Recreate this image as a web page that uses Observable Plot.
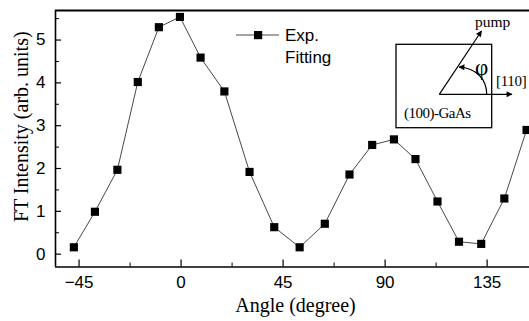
<!DOCTYPE html>
<html><head><meta charset="utf-8">
<script src="https://cdn.jsdelivr.net/npm/d3@7"></script>
<script src="https://cdn.jsdelivr.net/npm/@observablehq/plot@0.6"></script>
<style>body{margin:0;background:#fff} svg{display:block}</style>
</head><body><div id="chart"></div>
<script>
const angles = [-47.3,-38.0,-28.1,-19.1,-9.8,-0.5,8.6,19.1,30.2,41.1,52.3,63.4,74.3,84.3,93.9,103.4,113.1,122.6,132.4,142.6,152.4];
const intensity = [0.16,0.99,1.97,4.02,5.30,5.54,4.59,3.80,1.92,0.63,0.16,0.71,1.86,2.55,2.68,2.22,1.23,0.29,0.24,1.30,2.90];
const xTicks = [-45,0,45,90,135];
const xMinor = [-22.5,22.5,67.5,112.5];
const yTicks = [0,1,2,3,4,5];
const yMinor = [0.5,1.5,2.5,3.5,4.5,5.5];
const xDomain = [-55.4,153.7];
const yDomain = [-0.30,5.69];
const xTitle = "Angle (degree)";
const yTitle = "FT Intensity (arb. units)";
const legendLabels = ["Exp.", "Fitting"];

const data = angles.map((a,i)=>({angle:a, value:intensity[i]}));
const sans = "Liberation Sans, Arial, sans-serif";
const serif = "Liberation Serif, Times New Roman, serif";

const plot = Plot.plot({
  width: 529, height: 321,
  marginLeft: 55, marginTop: 10, marginBottom: 54.5, marginRight: 0,
  style: {background:"#fff", color:"#000", overflow:"hidden"},
  x: {domain: xDomain, label: null},
  y: {domain: yDomain, label: null},
  marks: [
    Plot.axisX(xTicks, {tickSize: -7, text: null, strokeWidth: 1.2, label: null}),
    Plot.axisX(xMinor, {tickSize: -4, text: null, strokeWidth: 1, label: null}),
    Plot.axisX(xTicks, {tickSize: 0, tickPadding: 9, fontSize: 17, fontFamily: sans, label: null}),
    Plot.axisY(yTicks, {tickSize: -6, text: null, strokeWidth: 1.2, label: null}),
    Plot.axisY(yMinor, {tickSize: -4, text: null, strokeWidth: 1, label: null}),
    Plot.axisY(yTicks, {tickSize: 0, tickPadding: 10, fontSize: 17, fontFamily: sans, label: null}),
    Plot.ruleY([yDomain[0]], {stroke:"#000", strokeWidth: 1.6}),
    Plot.ruleY([yDomain[1]], {stroke:"#000", strokeWidth: 1.8}),
    Plot.ruleX([xDomain[0]], {stroke:"#000", strokeWidth: 1.6}),
    Plot.line(data, {x:"angle", y:"value", stroke:"#333", strokeWidth: 0.9}),
    Plot.dot(data, {x:"angle", y:"value", symbol:"square", r:4.6, fill:"#000", stroke:"none"}),
    Plot.text([xTitle], {frameAnchor:"bottom", dy: 39, dx: 3, fontSize: 20, fontFamily: serif, lineAnchor:"middle", textAnchor:"middle"}),
    Plot.text([yTitle], {frameAnchor:"left", dx: -34, dy: -12, rotate: -90, fontSize: 20, fontFamily: serif, lineAnchor:"middle", textAnchor:"middle"})
  ]
});
document.getElementById("chart").appendChild(plot);

// legend + inset diagram
const svg = d3.select(plot);
const defs = svg.append("defs");
defs.append("marker").attr("id","ah").attr("viewBox","0 0 10 10").attr("refX",9).attr("refY",5)
  .attr("markerWidth",8).attr("markerHeight",6).attr("markerUnits","userSpaceOnUse").attr("orient","auto")
  .append("path").attr("d","M0,0L10,5L0,10z").attr("fill","#000");
defs.append("marker").attr("id","ah2").attr("viewBox","0 0 10 10").attr("refX",9).attr("refY",5)
  .attr("markerWidth",7).attr("markerHeight",6).attr("markerUnits","userSpaceOnUse").attr("orient","auto")
  .append("path").attr("d","M0,0L10,5L0,10z").attr("fill","#000");

const lg = svg.append("g").attr("text-anchor","start");
lg.append("line").attr("x1",236).attr("x2",279).attr("y1",35).attr("y2",35).attr("stroke","#333").attr("stroke-width",0.9);
lg.append("rect").attr("x",254).attr("y",31).attr("width",8.2).attr("height",8.2).attr("fill","#000");
lg.selectAll("text").data(legendLabels).join("text")
  .attr("x",285).attr("y",(d,i)=>35+i*22).attr("dy","0.35em")
  .attr("font-family",sans).attr("font-size",17).text(d=>d);

const ins = svg.append("g").attr("fill","none").attr("stroke","#000");
ins.append("rect").attr("x",396).attr("y",44.3).attr("width",95.7).attr("height",83.4).attr("stroke-width",1.3);
ins.append("line").attr("x1",439.3).attr("y1",94.3).attr("x2",512).attr("y2",94.3).attr("stroke-width",1.2).attr("marker-end","url(#ah)");
ins.append("line").attr("x1",439.3).attr("y1",94.3).attr("x2",481.5).attr("y2",31).attr("stroke-width",1.2).attr("marker-end","url(#ah)");
ins.append("path").attr("d","M486.7,94.3 C486.7,79 476,68 459,67").attr("stroke-width",1.2).attr("marker-end","url(#ah2)");
const it = svg.append("g").attr("font-family",serif).attr("fill","#000").attr("text-anchor","start");
it.append("text").attr("x",475).attr("y",27).attr("font-size",15.5).text("pump");
it.append("text").attr("x",475).attr("y",75).attr("font-size",23).text("φ");
it.append("text").attr("x",496).attr("y",86).attr("font-size",15).attr("letter-spacing","-0.3").text("[110]");
it.append("text").attr("x",404).attr("y",118).attr("font-size",15).attr("letter-spacing","-0.5").text("(100)-GaAs");
</script>
</body></html>
